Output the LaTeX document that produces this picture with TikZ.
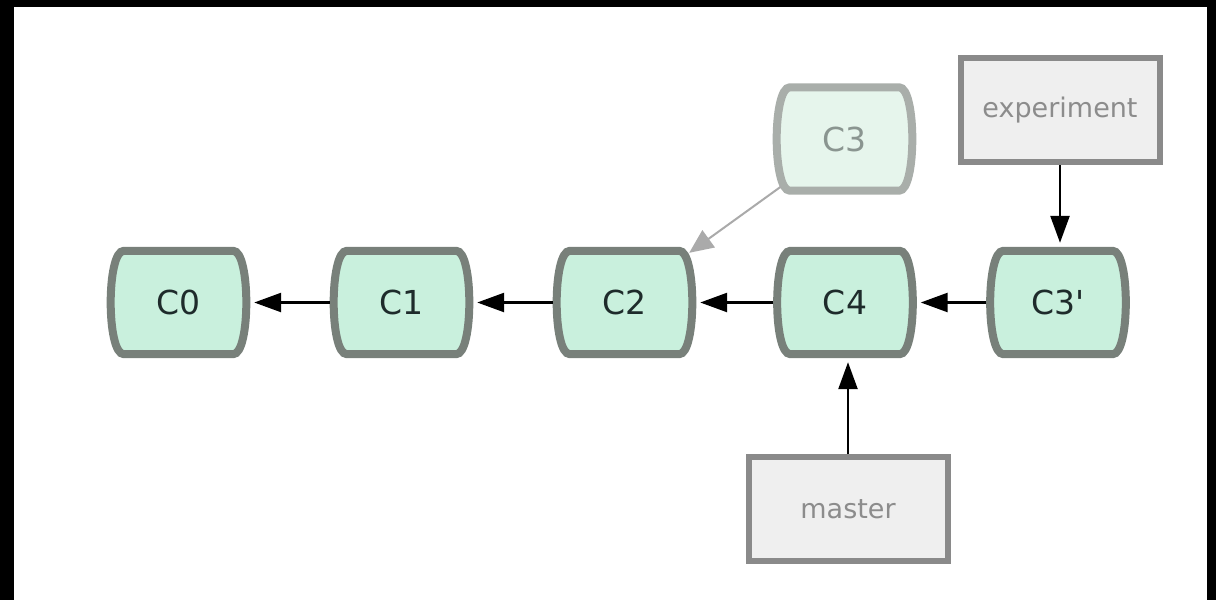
\documentclass[tikz,border=0pt]{standalone}
\usepackage{fontspec}
\setmainfont{DejaVu Sans}
\usetikzlibrary{arrows.meta}
\definecolor{commitfill}{HTML}{C9F0DD}
\definecolor{commitdraw}{HTML}{78807A}
\definecolor{committext}{HTML}{1E2B2B}
\definecolor{ghostfill}{HTML}{E6F5EC}
\definecolor{ghostdraw}{HTML}{A9AEAA}
\definecolor{ghosttext}{HTML}{8A9590}
\definecolor{labelfill}{HTML}{EFEFEF}
\definecolor{labeldraw}{HTML}{8A8A8A}
\definecolor{labeltext}{HTML}{8C8C8C}
\definecolor{ghostline}{HTML}{AAAAAA}
\tikzset{
  commitpath/.style={line width=8pt, draw=commitdraw, fill=commitfill},
  ghostpath/.style={line width=8pt, draw=ghostdraw, fill=ghostfill},
  commitbody/.style={minimum width=143pt, minimum height=111pt, inner sep=0pt,
    font=\fontsize{33}{33}\selectfont,
    append after command={\pgfextra{\let\cn\tikzlastnode
      \path[#1] ([xshift=17pt,yshift=-4pt]\cn.north west) -- ([xshift=-17pt,yshift=-4pt]\cn.north east)
        .. controls ([xshift=0.5pt,yshift=-4pt]\cn.north east) and ([xshift=0.5pt,yshift=4pt]\cn.south east) .. ([xshift=-17pt,yshift=4pt]\cn.south east)
        -- ([xshift=17pt,yshift=4pt]\cn.south west)
        .. controls ([xshift=-0.5pt,yshift=4pt]\cn.south west) and ([xshift=-0.5pt,yshift=-4pt]\cn.north west) .. cycle;}}},
  commit/.style={commitbody=commitpath, text=committext},
  ghost/.style={commitbody=ghostpath, text=ghosttext},
  branch/.style={draw=labeldraw, line width=6pt, fill=labelfill, minimum width=199pt, minimum height=104pt,
    inner sep=0pt, text=labeltext, font=\fontsize{27}{27}\selectfont},
  arr/.style={line width=2.5pt, -{Triangle[length=27pt,width=19pt]}, shorten >=4pt},
  ghostarr/.style={line width=2pt, draw=ghostline, -{Triangle[length=24pt,width=21pt]}, color=ghostline}
}
\begin{document}
\begin{tikzpicture}[x=1pt,y=-1pt]
\fill[black] (0,0) rectangle (1216,600);
\fill[white] (14,7) rectangle (1207,600);
\useasboundingbox (0,0) rectangle (1216,600);

\node[commit] (c0) at (178.5,302.5) {C0};
\node[commit] (c1) at (401.5,302.5) {C1};
\node[commit] (c2) at (624.5,302.5) {C2};
\node[commit] (c4) at (845,302.5) {C4};
\node[commit] (c3p) at (1058,302.5) {C3\textquotesingle};
\node[ghost] (c3) at (844.5,139) {C3};
\node[branch] (exp) at (1060,110) {experiment};
\node[branch] (mas) at (848,509) {master};

\draw[arr] (c1.west) -- (c0.east);
\draw[arr] (c2.west) -- (c1.east);
\draw[arr] (c4.west) -- (c2.east);
\draw[arr] (c3p.west) -- (c4.east);
\draw[arr] (exp.south) -- (exp.south |- c3p.north);
\draw[arr] (mas.north) -- (mas.north |- c4.south);
\draw[ghostarr] ([xshift=8pt,yshift=8pt]c3.south west) -- ([xshift=-7pt,yshift=-6pt]c2.north east);
\end{tikzpicture}
\end{document}
